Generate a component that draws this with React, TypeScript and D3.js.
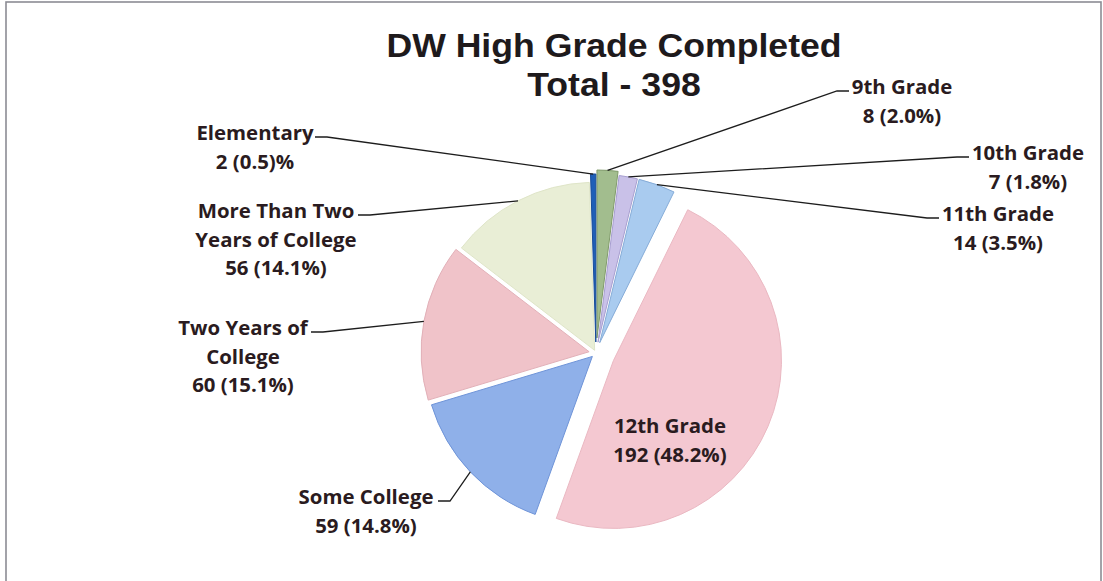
import React from "react";
import * as d3 from "d3";

// ---------- data ----------
const categories = [
  "9th Grade",
  "10th Grade",
  "11th Grade",
  "12th Grade",
  "Some College",
  "Two Years of College",
  "More Than Two Years of College",
  "Elementary",
];
const counts = [8, 7, 14, 192, 59, 60, 56, 2];
const nameLines = [
  ["9th Grade"],
  ["10th Grade"],
  ["11th Grade"],
  ["12th Grade"],
  ["Some College"],
  ["Two Years of", "College"],
  ["More Than Two", "Years of College"],
  ["Elementary"],
];
const valueLabels = [
  "8 (2.0%)",
  "7 (1.8%)",
  "14 (3.5%)",
  "192 (48.2%)",
  "59 (14.8%)",
  "60 (15.1%)",
  "56 (14.1%)",
  "2 (0.5)%",
];
const titleLines = ["DW High Grade Completed", "Total - 398"];

// ---------- style / layout ----------
const W = 1103;
const H = 581;
const CX = 596;
const CY = 353;
const R = 168;
const colors = [
  "#a2bd8e",
  "#c9c1e8",
  "#a9cbef",
  "#f4c8d1",
  "#8fb0e9",
  "#f0c3c9",
  "#e9eed6",
  "#1f5fb8",
];
const strokes = [
  "#7f9a6a",
  "#a79ed0",
  "#86acd8",
  "#eab8c2",
  "#6f94d8",
  "#e2b0b8",
  "#dfe5c8",
  "#174c99",
];
const explode = [15, 11, 11, 19, 5, 7, 3, 11];
// label layout: centre x, first baseline, leader start and horizontal tail
const labelLayout = [
  { x: 902, y: 94, lx: 849, ly: 91, dir: -1 },
  { x: 1028, y: 160, lx: 969, ly: 157, dir: -1 },
  { x: 998, y: 221, lx: 939, ly: 218, dir: -1 },
  { x: 670, y: 433, lx: 0, ly: 0, dir: 0 },
  { x: 366, y: 504, lx: 438, ly: 501, dir: 1 },
  { x: 243, y: 335, lx: 311, ly: 332, dir: 1 },
  { x: 276, y: 218, lx: 358, ly: 215, dir: 1 },
  { x: 255, y: 140, lx: 315, ly: 137, dir: 1 },
];
const LINE_H = 28.5;
const textColor = "#2a1b20";
const labelFont = "'Open Sans', 'Noto Sans', sans-serif";

export default function App() {
  const pie = d3
    .pie<number>()
    .sort(null)
    .value((d) => d)
    .startAngle(0)
    .endAngle(2 * Math.PI);
  const arcs = pie(counts);
  const arcGen = d3.arc<d3.PieArcDatum<number>>().innerRadius(0).outerRadius(R);

  return (
    <svg
      width={W}
      height={H}
      style={{ position: "absolute", left: 0, top: 0, background: "#fff" }}
    >
      <rect x={0} y={0} width={W} height={H} fill="#fff" />
      <rect
        x={6}
        y={2}
        width={1095}
        height={640}
        fill="none"
        stroke="#8c8c94"
        strokeWidth={1.6}
      />
      {/* title */}
      <g
        fontFamily="'Liberation Sans', Arial, sans-serif"
        fontWeight="bold"
        fontSize={33}
        fill="#1e1a1c"
        textAnchor="middle"
      >
        <text x={614} y={57} transform="translate(614,0) scale(1.08,1) translate(-614,0)">
          {titleLines[0]}
        </text>
        <text x={614} y={96} transform="translate(614,0) scale(1.08,1) translate(-614,0)">
          {titleLines[1]}
        </text>
      </g>
      {/* slices */}
      {arcs.map((a, i) => {
        const mid = (a.startAngle + a.endAngle) / 2;
        const dx = explode[i] * Math.sin(mid);
        const dy = -explode[i] * Math.cos(mid);
        return (
          <path
            key={categories[i]}
            d={arcGen(a) || ""}
            transform={`translate(${CX + dx},${CY + dy})`}
            fill={colors[i]}
            stroke={strokes[i]}
            strokeWidth={1}
          />
        );
      })}
      {/* leader lines */}
      {arcs.map((a, i) => {
        const L = labelLayout[i];
        if (L.dir === 0) return null;
        const mid = (a.startAngle + a.endAngle) / 2;
        const rr = R + explode[i];
        const px = CX + rr * Math.sin(mid);
        const py = CY - rr * Math.cos(mid);
        const tx = L.lx + L.dir * 12;
        return (
          <polyline
            key={"l" + i}
            points={`${L.lx},${L.ly} ${tx},${L.ly} ${px},${py}`}
            fill="none"
            stroke="#1d1d1d"
            strokeWidth={1.3}
          />
        );
      })}
      {/* labels */}
      <g fontFamily={labelFont} fontWeight={700} fontSize={20.4} fill={textColor} textAnchor="middle">
        {arcs.map((a, i) => {
          const L = labelLayout[i];
          const lines = [...nameLines[i], valueLabels[i]];
          return (
            <text key={"t" + i}>
              {lines.map((s, j) => (
                <tspan key={j} x={L.x} y={L.y + j * LINE_H}>
                  {s}
                </tspan>
              ))}
            </text>
          );
        })}
      </g>
    </svg>
  );
}
